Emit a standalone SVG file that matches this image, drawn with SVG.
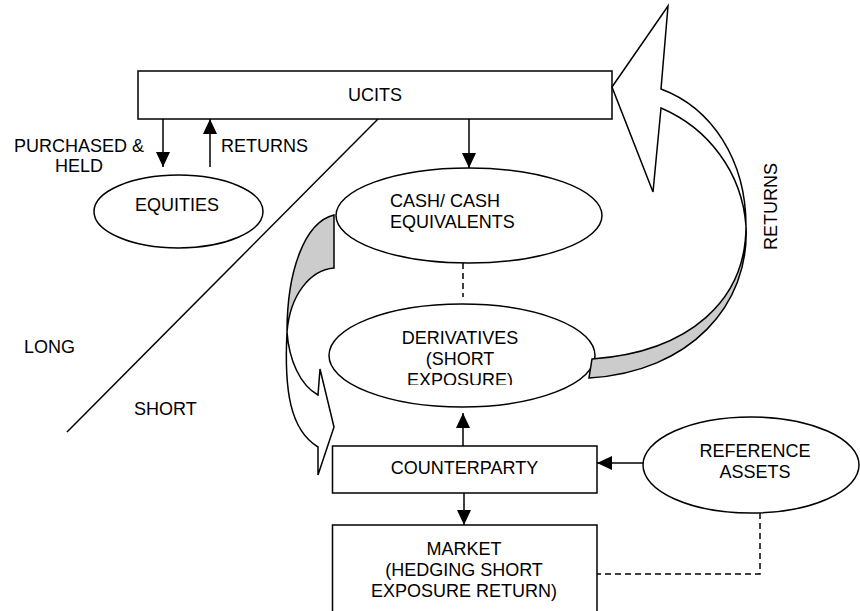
<svg xmlns="http://www.w3.org/2000/svg" width="860" height="611" viewBox="0 0 860 611">
  <defs>
    <style>
      .box { fill: #ffffff; stroke: #000000; stroke-width: 1.5; }
      .ln { fill: none; stroke: #000000; stroke-width: 1.5; }
      .dash { fill: none; stroke: #000000; stroke-width: 1.5; stroke-dasharray: 6 4; }
      .t { font-family: "Liberation Sans", Arial, sans-serif; font-size: 18px; fill: #000000; }
      .c { text-anchor: middle; }
      .face { fill: #ffffff; stroke: #000000; stroke-width: 1.5; stroke-linejoin: miter; }
      .back { fill: #cccccc; stroke: #000000; stroke-width: 1.5; }
    </style>
    <marker id="ah" markerUnits="userSpaceOnUse" markerWidth="16" markerHeight="14" refX="15" refY="7" orient="auto">
      <path d="M0,0 L15,7 L0,14 Z" fill="#000000"/>
    </marker>
    <clipPath id="derivClip">
      <rect x="300" y="300" width="320" height="85"/>
    </clipPath>
  </defs>

  <rect width="860" height="611" fill="#ffffff"/>

  <!-- Long / short divider -->
  <g id="divider">
    <line class="ln" x1="378" y1="119" x2="67" y2="432"/>
    <text class="t" x="24" y="353">LONG</text>
    <text class="t" x="134" y="415">SHORT</text>
  </g>

  <g id="ucits">
    <rect class="box" x="138" y="71" width="474" height="48"/>
    <text class="t c" x="375" y="101">UCITS</text>
  </g>

  <g id="equities">
    <ellipse class="box" cx="178.5" cy="211.5" rx="84.5" ry="36.5"/>
    <text class="t c" x="177" y="211">EQUITIES</text>
  </g>

  <g id="cash">
    <ellipse class="box" cx="469" cy="215.5" rx="133" ry="47.5"/>
    <text class="t" x="390" y="207">CASH/ CASH</text>
    <text class="t" x="390" y="227.5">EQUIVALENTS</text>
  </g>

  <g id="derivatives">
    <ellipse class="box" cx="462" cy="355.5" rx="133" ry="51.5"/>
    <g clip-path="url(#derivClip)">
      <text class="t c" x="460" y="344">DERIVATIVES</text>
      <text class="t c" x="460" y="365">(SHORT</text>
      <text class="t c" x="460" y="386">EXPOSURE)</text>
    </g>
  </g>

  <g id="counterparty">
    <rect class="box" x="332.5" y="446" width="264.5" height="47"/>
    <text class="t c" x="464.5" y="474">COUNTERPARTY</text>
  </g>

  <g id="market">
    <rect class="box" x="332.5" y="525" width="264.5" height="90"/>
    <text class="t c" x="464" y="555">MARKET</text>
    <text class="t c" x="464" y="576">(HEDGING SHORT</text>
    <text class="t c" x="464" y="597">EXPOSURE RETURN)</text>
  </g>

  <g id="reference-assets">
    <ellipse class="box" cx="751" cy="465" rx="108" ry="48"/>
    <text class="t c" x="755" y="457">REFERENCE</text>
    <text class="t c" x="755" y="478">ASSETS</text>
  </g>

  <!-- Curved arrow: cash -> counterparty (left) -->
  <g id="curved-arrow-left">
    <path class="back" d="M334,215 L334,268 C310,270 290,295 287,332 C287,270 305,222 334,215 Z"/>
    <path class="face" d="M287,332 C289,360 300,385 318,395 L320,369 L334,427 L318,475 L318,447 C290,430 284,390 287,332 Z"/>
  </g>

  <!-- Curved arrow: derivatives -> UCITS (right, RETURNS) -->
  <g id="curved-arrow-right">
    <path class="back" d="M746,226 C746,300 690,352 592,359 L589,378 C690,372 750,305 746,226 Z"/>
    <path class="face" d="M612,87 L668,6 L661,89 C712,108 746,160 746,226 C742,172 708,128 661,108 L653,192 Z"/>
    <text class="t" transform="translate(776.5,250) rotate(-90)">RETURNS</text>
  </g>

  <g id="connectors">
    <line class="ln" x1="163" y1="119" x2="163" y2="167" marker-end="url(#ah)"/>
    <line class="ln" x1="210" y1="167" x2="210" y2="119" marker-end="url(#ah)"/>
    <text class="t c" x="79" y="152">PURCHASED &amp;</text>
    <text class="t c" x="79" y="172">HELD</text>
    <text class="t" x="221" y="152">RETURNS</text>
    <line class="ln" x1="469" y1="119" x2="469" y2="168" marker-end="url(#ah)"/>
    <line class="dash" x1="463" y1="263" x2="463" y2="297"/>
    <line class="ln" x1="463" y1="446" x2="463" y2="413" marker-end="url(#ah)"/>
    <line class="ln" x1="464" y1="493" x2="464" y2="525" marker-end="url(#ah)"/>
    <line class="ln" x1="643" y1="463" x2="597" y2="463" marker-end="url(#ah)"/>
    <polyline class="dash" points="760,513 760,574 597,574"/>
  </g>
</svg>
